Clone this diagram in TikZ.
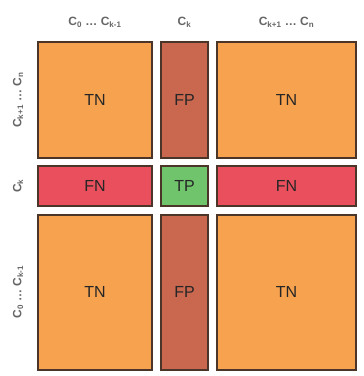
\documentclass[tikz,border=0pt]{standalone}
\usepackage{fontspec}
\setmainfont{Liberation Sans}
\definecolor{tnc}{HTML}{F7A24E}
\definecolor{fpc}{HTML}{C9674F}
\definecolor{fnc}{HTML}{E94F5C}
\definecolor{tpc}{HTML}{70C46C}
\definecolor{edgec}{HTML}{4A3528}
\definecolor{labc}{HTML}{666666}
\newcommand{\sbs}[1]{\textsubscript{#1}}
\begin{document}
\begin{tikzpicture}[x=1pt,y=-1pt,
  cell/.style={draw=edgec,line width=1.2pt,font=\fontsize{16}{16}\selectfont,text=black!85},
  lab/.style={text=labc,font=\fontsize{12}{12}\selectfont\bfseries}]
\useasboundingbox (0,0) rectangle (364,376);
\fill[white] (0,0) rectangle (364,376);
% top row
\draw[cell,fill=tnc] (38,42) rectangle (152,158);
\node[cell,draw=none] (tn1) at (95,100) {TN};
\draw[cell,fill=fpc] (161,42) rectangle (208,158);
\node[cell,draw=none] (fp1) at (184.5,100) {FP};
\draw[cell,fill=tnc] (217,42) rectangle (356,158);
\node[cell,draw=none] (tn2) at (286.5,100) {TN};
% middle row
\draw[cell,fill=fnc] (38,166) rectangle (152,206);
\node[cell,draw=none] (fn1) at (95,186) {FN};
\draw[cell,fill=tpc] (161,166) rectangle (208,206);
\node[cell,draw=none] (tp) at (184.5,186) {TP};
\draw[cell,fill=fnc] (217,166) rectangle (356,206);
\node[cell,draw=none] (fn2) at (286.5,186) {FN};
% bottom row
\draw[cell,fill=tnc] (38,215) rectangle (152,370);
\node[cell,draw=none] (tn3) at (95,292) {TN};
\draw[cell,fill=fpc] (161,215) rectangle (208,370);
\node[cell,draw=none] (fp2) at (184.5,292) {FP};
\draw[cell,fill=tnc] (217,215) rectangle (356,370);
\node[cell,draw=none] (tn4) at (286.5,292) {TN};
% column labels
\node[lab] (c1) at (95,22) {C\sbs{0} \dots{} C\sbs{k-1}};
\node[lab] (c2) at (184.5,22) {C\sbs{k}};
\node[lab] (c3) at (286.5,22) {C\sbs{k+1} \dots{} C\sbs{n}};
% row labels
\node[lab,rotate=90] (r1) at (18,100) {C\sbs{k+1} \dots{} C\sbs{n}};
\node[lab,rotate=90] (r2) at (18,186) {C\sbs{k}};
\node[lab,rotate=90] (r3) at (18,292) {C\sbs{0} \dots{} C\sbs{k-1}};
\end{tikzpicture}
\end{document}
